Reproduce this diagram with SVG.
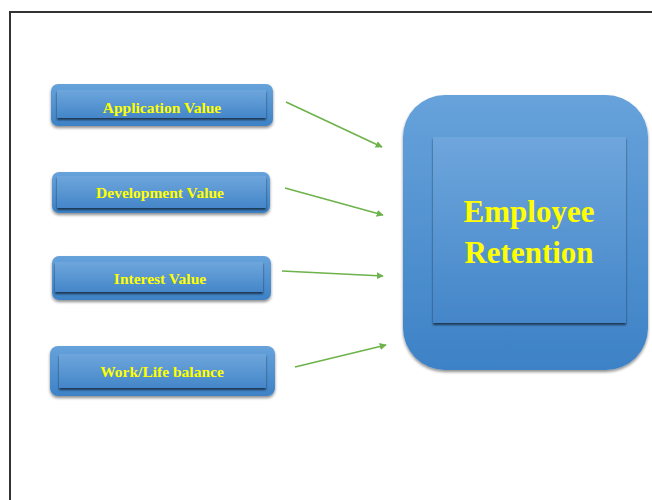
<svg xmlns="http://www.w3.org/2000/svg" width="652" height="500" viewBox="0 0 652 500">
<style>
.lbl{font-family:"Liberation Serif","Times New Roman",serif;font-weight:bold;fill:#ffff00;text-anchor:middle}
.sm{font-size:15.5px}
.big{font-size:31px}
.outer{fill:url(#gOuter);filter:url(#sh)}
.inner{fill:url(#gInner);filter:url(#sh2)}
.conn{stroke:#6db24a;stroke-width:1.6;fill:none;marker-end:url(#ah)}
</style>
<defs>
<linearGradient id="gOuter" x1="0" y1="0" x2="0" y2="1">
<stop offset="0" stop-color="#67a2db"/>
<stop offset="1" stop-color="#3d82c6"/>
</linearGradient>
<linearGradient id="gInner" x1="0" y1="0" x2="0" y2="1">
<stop offset="0" stop-color="#6ea6dc"/>
<stop offset="1" stop-color="#4486c9"/>
</linearGradient>
<filter id="sh" x="-10%" y="-10%" width="120%" height="130%">
<feGaussianBlur in="SourceAlpha" stdDeviation="1.8"/>
<feOffset dx="0" dy="2" result="b"/>
<feComponentTransfer><feFuncA type="linear" slope="0.45"/></feComponentTransfer>
<feMerge><feMergeNode/><feMergeNode in="SourceGraphic"/></feMerge>
</filter>
<filter id="sh2" x="-10%" y="-10%" width="120%" height="130%">
<feGaussianBlur in="SourceAlpha" stdDeviation="1.2"/>
<feOffset dx="0" dy="1.5" result="b"/>
<feComponentTransfer><feFuncA type="linear" slope="0.6"/></feComponentTransfer>
<feMerge><feMergeNode/><feMergeNode in="SourceGraphic"/></feMerge>
</filter>
<marker id="ah" viewBox="0 0 10 10" refX="9" refY="5" markerWidth="7" markerHeight="7" orient="auto" markerUnits="userSpaceOnUse">
<path d="M0,0 L10,5 L0,10 z" fill="#6db24a"/>
</marker>
</defs>
<rect width="652" height="500" fill="#ffffff"/>
<rect x="10" y="12" width="700" height="600" fill="none" stroke="#333333" stroke-width="2"/>

<g id="node-application">
<rect class="outer" x="51" y="84" width="222" height="42" rx="7"/>
<rect class="inner" x="57" y="90" width="209" height="28"/>
<text class="lbl sm" x="162" y="113">Application Value</text>
</g>
<g id="node-development">
<rect class="outer" x="52" y="172" width="218" height="41" rx="7"/>
<rect class="inner" x="57" y="176" width="209" height="32"/>
<text class="lbl sm" x="160" y="198">Development Value</text>
</g>
<g id="node-interest">
<rect class="outer" x="52" y="256" width="219" height="44" rx="7"/>
<rect class="inner" x="55" y="262" width="208" height="30"/>
<text class="lbl sm" x="160" y="284">Interest Value</text>
</g>
<g id="node-worklife">
<rect class="outer" x="50" y="346" width="225" height="50" rx="8"/>
<rect class="inner" x="59" y="354" width="207" height="34"/>
<text class="lbl sm" x="162" y="377">Work/Life balance</text>
</g>
<g id="node-retention">
<rect class="outer" x="403" y="95" width="245" height="275" rx="42"/>
<rect class="inner" x="433" y="137" width="193" height="186"/>
<text class="lbl big" x="529" y="222">Employee</text>
<text class="lbl big" x="529" y="263">Retention</text>
</g>

<g id="connectors">
<line class="conn" x1="286" y1="102" x2="382" y2="147"/>
<line class="conn" x1="285" y1="188" x2="383" y2="215"/>
<line class="conn" x1="282" y1="271" x2="383" y2="276"/>
<line class="conn" x1="295" y1="367" x2="386" y2="345"/>
</g>
</svg>
